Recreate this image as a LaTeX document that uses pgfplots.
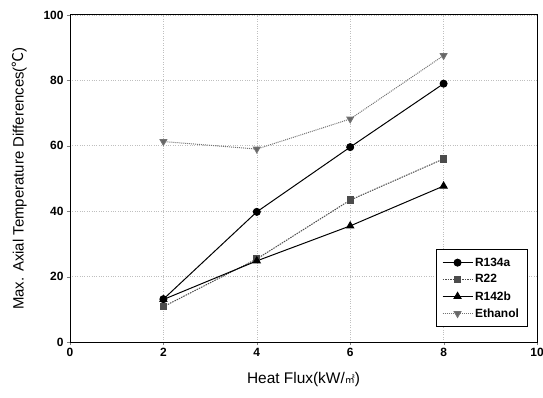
\documentclass[border=0pt]{standalone}
\usepackage{pgfplots}
\pgfplotsset{compat=1.18}
\usepackage{fontspec}
\setmainfont{Liberation Sans}
\newfontfamily\cjk{Noto Sans CJK SC}
\begin{document}
\begin{tikzpicture}[x=1bp,y=1bp]
\begin{axis}[
  name=ax,
  scale only axis,
  width=467bp, height=327bp,
  xmin=0, xmax=10, ymin=0, ymax=100,
  xtick={0,2,4,6,8,10}, ytick={0,20,40,60,80,100},
  tick align=outside, tick pos=left,
  major tick length=3bp,
  grid=major,
  grid style={dotted, gray!50, line width=0.6pt},
  axis line style={line width=1pt},
  ticklabel style={font=\fontsize{12}{14}\selectfont\bfseries},
  /pgf/number format/assume math mode=true,
  xlabel={Heat Flux(kW/{\cjk\fontsize{10}{11}\selectfont ㎡})},
  ylabel={Max. Axial Temperature Differences({\cjk ℃})},
  xlabel style={font=\fontsize{15.5}{17}\selectfont, yshift=-8bp},
  ylabel style={font=\fontsize{15}{17}\selectfont, yshift=10bp},
  legend style={at={(0.979,0.046)}, anchor=south east, font=\fontsize{12}{14}\selectfont\bfseries,
    draw=black, line width=0.7pt, row sep=3pt, inner xsep=6pt, inner ysep=6pt},
  legend image code/.code={\draw[mark repeat=2,mark phase=2] plot coordinates {(0bp,0bp) (15bp,0bp) (30bp,0bp)};},
  legend cell align=left,
  every axis plot/.append style={line width=1pt},
]
\coordinate (bl) at (rel axis cs:0,0);
\addplot[black, mark=*, mark size=3.5pt] coordinates {(2,13.1) (4,39.8) (6,59.6) (8,79)};
\addlegendentry{R134a}
\addplot[black!70, dash pattern=on 1.5pt off 1pt, mark=square*, mark size=3.2pt, mark options={solid, fill=black!70}] coordinates {(2,10.8) (4,25.4) (6,43.4) (8,56)};
\addlegendentry{R22}
\addplot[black, mark=triangle*, mark size=4pt] coordinates {(2,13) (4,24.8) (6,35.5) (8,47.7)};
\addlegendentry{R142b}
\addplot[black!55, densely dotted, mark=triangle*, mark size=3.8pt, mark options={solid, rotate=180, fill=black!60}] coordinates {(2,61.3) (4,59) (6,68.2) (8,87.6)};
\addlegendentry{Ethanol}
\end{axis}
\pgfresetboundingbox
\path ([shift={(-70bp,-56bp)}]bl) rectangle ([shift={(473bp,342bp)}]bl);
\end{tikzpicture}
\end{document}
